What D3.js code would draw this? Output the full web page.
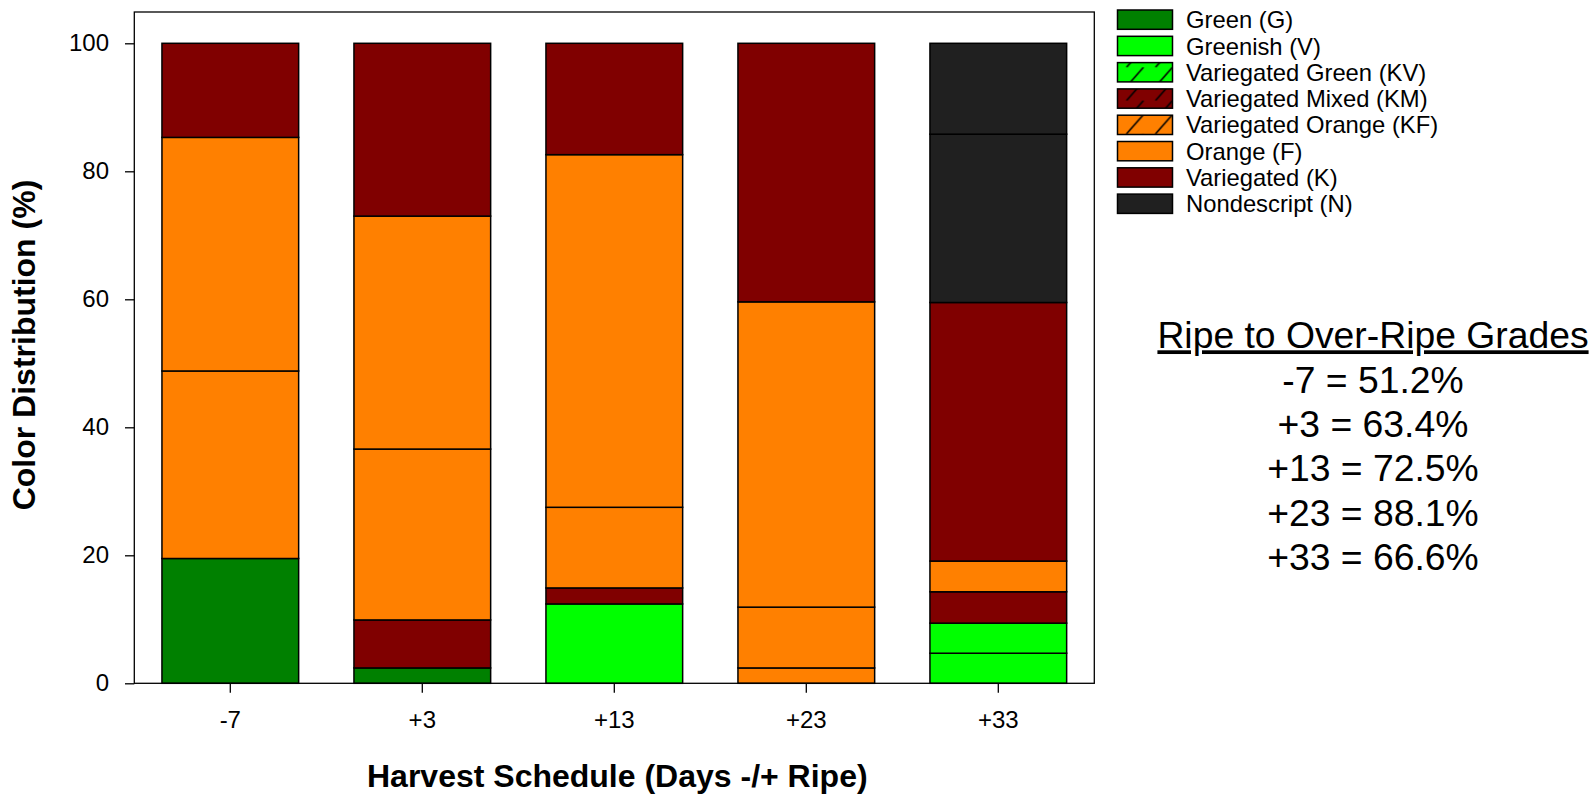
<!DOCTYPE html>
<html>
<head>
<meta charset="utf-8">
<script src="https://cdn.jsdelivr.net/npm/d3@7"></script>
<style>
  html, body { margin: 0; padding: 0; background: #fff; }
  svg { display: block; font-family: "Liberation Sans", Arial, sans-serif; }
</style>
</head>
<body>
<svg id="chart" width="1592" height="795"></svg>
<script>
// ---------------- DATA ----------------
const categories = ["-7", "+3", "+13", "+23", "+33"];

// stacked segments per harvest (bottom -> top): [series code, percent]
const segMinus7 = [["G", 19.5], ["KF", 29.3], ["F", 36.5], ["K", 14.7]];
const segPlus3  = [["G", 2.4], ["KM", 7.5], ["KF", 26.7], ["F", 36.4], ["K", 27.0]];
const segPlus13 = [["V", 12.4], ["KM", 2.5], ["KF", 12.6], ["F", 55.1], ["K", 17.4]];
const segPlus23 = [["KF", 2.4], ["KF", 9.5], ["F", 47.7], ["K", 40.4]];
const segPlus33 = [["V", 4.7], ["KV", 4.7], ["KM", 4.9], ["KF", 4.8], ["K", 40.4], ["N", 26.3], ["N", 14.2]];
const segments = [segMinus7, segPlus3, segPlus13, segPlus23, segPlus33];

const seriesCodes  = ["G", "V", "KV", "KM", "KF", "F", "K", "N"];
const seriesLabels = ["Green (G)", "Greenish (V)", "Variegated Green (KV)", "Variegated Mixed (KM)",
                      "Variegated Orange (KF)", "Orange (F)", "Variegated (K)", "Nondescript (N)"];
const seriesColors = ["#008000", "#00FF00", "#00FF00", "#800000", "#FF8000", "#FF8000", "#800000", "#202020"];
const seriesHatched = [false, false, true, true, true, false, false, false];

const yTicks = [0, 20, 40, 60, 80, 100];

const gradeTitle = "Ripe to Over-Ripe Grades";
const gradeValues = [51.2, 63.4, 72.5, 88.1, 66.6];

// ---------------- LAYOUT ----------------
const svg = d3.select("#chart");
const plot = { left: 134.3, right: 1094.3, top: 12, bottom: 683.3 };
const FONT = "'Liberation Sans', Arial, sans-serif";

const x = d3.scaleBand()
  .domain(categories)
  .range([plot.left, plot.right])
  .paddingInner(0.288)
  .paddingOuter(0.144);

const y = d3.scaleLinear().domain([0, 105]).range([plot.bottom, plot.bottom - 105 * 6.4]);

const color = d3.scaleOrdinal().domain(seriesCodes).range(seriesColors);

// ---------------- BARS ----------------
const rects = [];
categories.forEach((cat, i) => {
  let cum = 0;
  segments[i].forEach(([code, v]) => {
    rects.push({ cat, code, y0: cum, y1: cum + v });
    cum += v;
  });
});

svg.append("g").selectAll("rect")
  .data(rects)
  .join("rect")
  .attr("x", d => x(d.cat))
  .attr("width", x.bandwidth())
  .attr("y", d => y(d.y1))
  .attr("height", d => y(d.y0) - y(d.y1))
  .attr("fill", d => color(d.code))
  .attr("stroke", "#000")
  .attr("stroke-width", 1.5);

// ---------------- FRAME & AXES ----------------
svg.append("rect")
  .attr("x", plot.left).attr("y", plot.top)
  .attr("width", plot.right - plot.left).attr("height", plot.bottom - plot.top)
  .attr("fill", "none").attr("stroke", "#000").attr("stroke-width", 1.3);

const yAxis = svg.append("g")
  .attr("transform", `translate(${plot.left},0)`)
  .call(d3.axisLeft(y).tickValues(yTicks).tickSize(9.3).tickSizeOuter(0).tickPadding(16));
yAxis.select(".domain").remove();
yAxis.selectAll("line").attr("stroke", "#000").attr("stroke-width", 1.3);
yAxis.selectAll("text").attr("font-size", 24).attr("font-family", FONT).attr("fill", "#000");

const xAxis = svg.append("g")
  .attr("transform", `translate(0,${plot.bottom})`)
  .call(d3.axisBottom(x).tickSize(9.5).tickSizeOuter(0).tickPadding(18));
xAxis.select(".domain").remove();
xAxis.selectAll("line").attr("stroke", "#000").attr("stroke-width", 1.3);
xAxis.selectAll("text").attr("font-size", 24).attr("font-family", FONT).attr("fill", "#000");

// axis titles
svg.append("text")
  .attr("transform", "translate(35,345) rotate(-90)")
  .attr("text-anchor", "middle")
  .attr("font-size", 32).attr("font-weight", "bold").attr("font-family", FONT)
  .text("Color Distribution (%)");

svg.append("text")
  .attr("x", (plot.left + plot.right) / 2 + 3).attr("y", 787)
  .attr("text-anchor", "middle")
  .attr("font-size", 32).attr("font-weight", "bold").attr("font-family", FONT)
  .text("Harvest Schedule (Days -/+ Ripe)");

// ---------------- LEGEND ----------------
const lg = { x: 1117.5, y: 10, w: 55, h: 19.3, pitch: 26.3, textX: 1186 };
const defs = svg.append("defs");
seriesCodes.forEach((code, i) => {
  if (!seriesHatched[i]) return;
  const p = defs.append("pattern")
    .attr("id", "hatch-" + code)
    .attr("patternUnits", "userSpaceOnUse")
    .attr("x", lg.x).attr("y", lg.y + i * lg.pitch)
    .attr("width", 29).attr("height", lg.h);
  p.append("rect").attr("width", 29).attr("height", lg.h).attr("fill", seriesColors[i]);
  p.append("line")
    .attr("x1", 9).attr("y1", lg.h).attr("x2", 26).attr("y2", 0)
    .attr("stroke", "#000").attr("stroke-width", 1.6);
});

const legend = svg.append("g");
const rows = legend.selectAll("g")
  .data(seriesCodes)
  .join("g")
  .attr("transform", (d, i) => `translate(0,${lg.y + i * lg.pitch})`);
rows.append("rect")
  .attr("x", lg.x).attr("y", 0)
  .attr("width", lg.w).attr("height", lg.h)
  .attr("fill", (d, i) => seriesHatched[i] ? `url(#hatch-${d})` : seriesColors[i])
  .attr("stroke", "#000").attr("stroke-width", 1.5);
rows.append("text")
  .attr("x", lg.textX).attr("y", lg.h / 2)
  .attr("dy", "0.36em")
  .attr("font-size", 23.8).attr("font-family", FONT)
  .text((d, i) => seriesLabels[i]);

// ---------------- GRADES TEXT ----------------
const gx = 1373, gy = 348.3, gPitch = 44.3;
svg.append("text")
  .attr("x", gx).attr("y", gy)
  .attr("text-anchor", "middle")
  .attr("font-size", 37.3).attr("font-family", FONT)
  .attr("text-decoration", "underline")
  .text(gradeTitle);
svg.append("g").selectAll("text")
  .data(categories)
  .join("text")
  .attr("x", gx).attr("y", (d, i) => gy + (i + 1) * gPitch)
  .attr("text-anchor", "middle")
  .attr("font-size", 37.3).attr("font-family", FONT)
  .text((d, i) => `${d} = ${gradeValues[i].toFixed(1)}%`);
</script>
</body>
</html>
